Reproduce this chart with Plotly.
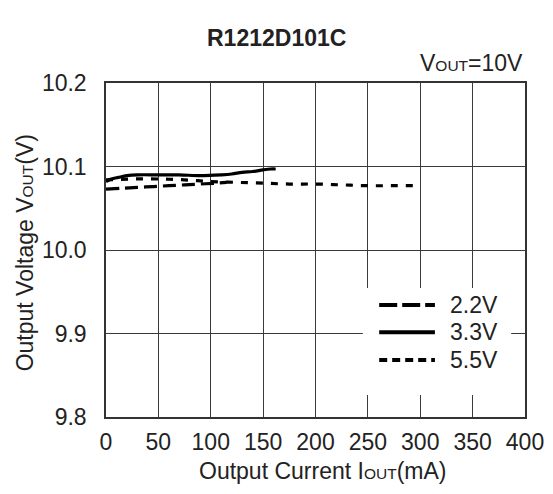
import plotly.graph_objects as go

# Data
iout_22 = [0, 15, 30, 45, 60, 75, 90, 105, 115]
vout_22 = [10.073, 10.074, 10.075, 10.076, 10.077, 10.078, 10.079, 10.080, 10.081]

iout_33 = [0, 5, 12, 20, 30, 50, 70, 90, 110, 120, 130, 140, 150, 157, 162]
vout_33 = [10.082, 10.085, 10.087, 10.089, 10.090, 10.090, 10.090, 10.089, 10.090, 10.091, 10.093, 10.094, 10.096, 10.097, 10.097]

iout_55 = [0, 25, 50, 75, 100, 125, 150, 175, 200, 225, 250, 275, 300]
vout_55 = [10.084, 10.085, 10.085, 10.084, 10.082, 10.081, 10.080, 10.079, 10.079, 10.078, 10.077, 10.077, 10.077]

series_names = ["2.2V", "3.3V", "5.5V"]
x_ticks = [0, 50, 100, 150, 200, 250, 300, 350, 400]
y_ticks = [9.8, 9.9, 10.0, 10.1, 10.2]
y_tick_text = ["9.8", "9.9", "10.0", "10.1", "10.2"]

FONT = "Liberation Sans, Arial, sans-serif"
FS = 23
SUB = 15.5
TXT = "#222222"

data_dash = ["13px,6px", "solid", "7px,8px"]
legend_dash = ["18px,5px", "solid", "8px,5px"]

fig = go.Figure()
for xs, ys, nm, dsh in zip([iout_22, iout_33, iout_55], [vout_22, vout_33, vout_55], series_names, data_dash):
    fig.add_trace(go.Scatter(x=xs, y=ys, mode="lines", name=nm, showlegend=False,
                             line=dict(color="black", width=3.2, dash=dsh, shape="spline")))

axis_common = dict(showgrid=True, gridcolor="#3a3a3a", gridwidth=1,
                   showline=True, linecolor="#333333", linewidth=1.5, mirror=True,
                   zeroline=False, ticks="", tickfont=dict(family=FONT, size=FS, color=TXT))

fig.update_xaxes(range=[0, 400], tickvals=x_ticks, ticklabelstandoff=4, **axis_common)
fig.update_yaxes(range=[9.8, 10.2], tickvals=y_ticks, ticktext=y_tick_text, ticklabelstandoff=13, **axis_common)

# Legend drawn as a key box inside the plot (paper coordinates)
shapes = [dict(type="rect", xref="paper", yref="paper", x0=0.613, x1=0.967, y0=0.066, y1=0.386,
               fillcolor="white", line=dict(width=0), layer="above")]
annotations = []
key_y = [0.335, 0.254, 0.171]
for nm, dsh, ky in zip(series_names, legend_dash, key_y):
    shapes.append(dict(type="line", xref="paper", yref="paper", x0=0.652, x1=0.785, y0=ky, y1=ky,
                       line=dict(color="black", width=4, dash=dsh), layer="above"))
    annotations.append(dict(text=nm, xref="paper", yref="paper", x=0.816, y=ky,
                            xanchor="left", yanchor="middle", showarrow=False,
                            font=dict(family=FONT, size=FS, color=TXT)))

annotations += [
    dict(text="<b>R1212D101C</b>", xref="paper", yref="paper", x=0.406, y=1.0,
         yshift=45, xanchor="center", yanchor="middle", showarrow=False,
         font=dict(family=FONT, size=FS, color=TXT)),
    dict(text=f"V<span style='font-size:{SUB}px'>OUT</span>=10V", xref="paper", yref="paper",
         x=1.0, y=1.0, yshift=20, xanchor="right", yanchor="middle", showarrow=False,
         font=dict(family=FONT, size=FS, color=TXT)),
    dict(text=f"Output Current I<span style='font-size:{SUB}px'>OUT</span>(mA)", xref="paper", yref="paper",
         x=0.516, y=0.0, yshift=-54, xanchor="center", yanchor="middle", showarrow=False,
         font=dict(family=FONT, size=FS, color=TXT)),
    dict(text=f"Output Voltage V<span style='font-size:{SUB}px'>OUT</span>(V)", xref="paper", yref="paper",
         x=0.0, xshift=-81, y=0.49, xanchor="center", yanchor="middle", showarrow=False,
         textangle=-90, font=dict(family=FONT, size=FS, color=TXT)),
]

fig.update_layout(
    width=537, height=478,
    margin=dict(l=98, r=20, t=75, b=69, autoexpand=False),
    paper_bgcolor="white", plot_bgcolor="white",
    font=dict(family=FONT, color=TXT),
    showlegend=False,
    shapes=shapes,
    annotations=annotations,
)

fig.write_html("out.html")
